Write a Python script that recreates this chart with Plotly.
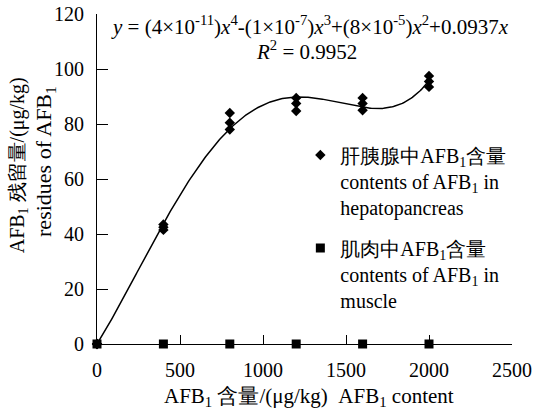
import numpy as np
import plotly.graph_objects as go

# ---- data ----
hep_x = [0, 0, 0, 400, 400, 400, 800, 800, 800, 1200, 1200, 1200, 1600, 1600, 1600, 2000, 2000, 2000]
hep_y = [0, 0, 0, 41.5, 42.5, 43.5, 78.0, 80.5, 84.0, 84.7, 87.5, 89.5, 85.0, 87.5, 89.5, 93.5, 95.5, 97.5]
mus_x = [0, 400, 800, 1200, 1600, 2000]
mus_y = [0, 0, 0, 0, 0, 0]

x_ticks = [0, 500, 1000, 1500, 2000, 2500]
y_ticks = [0, 20, 40, 60, 80, 100, 120]

hep_name = "肝胰腺中AFB<sub>1</sub>含量<br>contents of AFB<sub>1</sub> in<br>hepatopancreas"
mus_name = "肌肉中AFB<sub>1</sub>含量<br>contents of AFB<sub>1</sub> in<br>muscle"
eq_text = ("<i>y</i> = (4×10<sup>-11</sup>)<i>x</i><sup>4</sup>-(1×10<sup>-7</sup>)<i>x</i><sup>3</sup>"
           "+(8×10<sup>-5</sup>)<i>x</i><sup>2</sup>+0.0937<i>x</i>")
r2_text = "<i>R</i><sup>2</sup> = 0.9952"
x_title = "AFB<sub>1</sub> 含量/(μg/kg)  AFB<sub>1</sub> content"
y_title1 = "AFB<sub>1</sub> 残留量/(μg/kg)"
y_title2 = "residues of AFB<sub>1</sub>"

FONT = "Liberation Serif, Times New Roman, serif"

# ---- polynomial trendline (degree 4 through origin), fitted from the data ----
xs = np.array(hep_x, dtype=float) / 1000.0
A = np.vstack([xs, xs**2, xs**3, xs**4]).T
coef, *_ = np.linalg.lstsq(A, np.array(hep_y, dtype=float), rcond=None)
fx = np.linspace(0, max(hep_x), 300)
fs = fx / 1000.0
fy = coef[0]*fs + coef[1]*fs**2 + coef[2]*fs**3 + coef[3]*fs**4

fig = go.Figure()
fig.add_trace(go.Scatter(x=fx, y=fy, mode="lines", line=dict(color="black", width=1.5),
                         showlegend=False, hoverinfo="skip"))
fig.add_trace(go.Scatter(x=hep_x, y=hep_y, mode="markers", name=hep_name, legendgroup="hep",
                         marker=dict(symbol="diamond", size=8, color="black"),
                         cliponaxis=False))
fig.add_trace(go.Scatter(x=mus_x, y=mus_y, mode="markers", name=mus_name, legendgroup="mus",
                         marker=dict(symbol="square", size=9, color="black"),
                         cliponaxis=False))

axis_common = dict(showline=True, linecolor="black", linewidth=1.2, showgrid=False,
                   zeroline=False, ticks="inside", tickcolor="black", tickwidth=1.2,
                   automargin=False, ticklabeloverflow="allow",
                   tickfont=dict(family=FONT, size=20, color="black"), ticklabelstandoff=8)

fig.update_xaxes(range=[0, 2500], tickvals=x_ticks, ticklen=9, **axis_common)
fig.update_yaxes(range=[0, 120], tickvals=y_ticks, ticklen=11, **axis_common)

fig.add_annotation(text=eq_text, xref="paper", yref="paper", x=0.513, y=0.964,
                   showarrow=False, xanchor="center", yanchor="middle",
                   font=dict(family=FONT, size=21, color="black"))
fig.add_annotation(text=r2_text, xref="paper", yref="paper", x=0.504, y=0.889,
                   showarrow=False, xanchor="center", yanchor="middle",
                   font=dict(family=FONT, size=21, color="black"))
fig.add_annotation(text=x_title, xref="paper", yref="paper", x=0.51, y=-0.162,
                   showarrow=False, xanchor="center", yanchor="middle",
                   font=dict(family=FONT, size=21, color="black"))
fig.add_annotation(text=y_title1, xref="paper", yref="paper", x=-0.19, y=0.542,
                   showarrow=False, xanchor="center", yanchor="middle", textangle=-90,
                   font=dict(family=FONT, size=20, color="black"))
fig.add_annotation(text=y_title2, xref="paper", yref="paper", x=-0.125, y=0.552,
                   showarrow=False, xanchor="center", yanchor="middle", textangle=-90,
                   font=dict(family=FONT, size=22, color="black"))

fig.update_layout(
    width=535, height=410,
    margin=dict(l=97, r=23, t=14, b=66, autoexpand=False),
    paper_bgcolor="white", plot_bgcolor="white",
    font=dict(family=FONT, size=20, color="black"),
    legend=dict(x=0.49, y=0.632, xanchor="left", yanchor="top", valign="top",
                traceorder="grouped", tracegroupgap=12,
                bgcolor="rgba(0,0,0,0)", font=dict(family=FONT, size=20, color="black")),
)

# remove the page's default body margin so the figure sits at the window's corner
fig.write_html("out.html", config={"displayModeBar": False},
               post_script="document.body.style.margin='0';")
